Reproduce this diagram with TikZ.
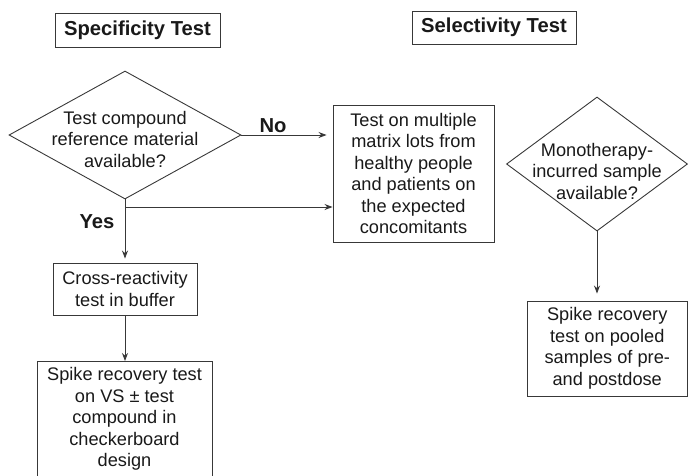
\documentclass[tikz,border=0pt]{standalone}
\usepackage{fontspec}
\setmainfont{Liberation Sans}
\usetikzlibrary{shapes.geometric,arrows.meta}
\begin{document}
\begin{tikzpicture}[x=1pt,y=-1pt,
  every node/.style={font=\fontsize{18.2}{21.5}\selectfont, text=black!90},
  box/.style={draw=black!78, line width=0.9pt, align=center, inner sep=0pt},
  dia/.style={diamond, draw=black!78, line width=0.9pt, inner sep=0pt},
  title/.style={box, font=\fontsize{20.2}{22}\selectfont\bfseries},
  lbl/.style={font=\fontsize{20.2}{22}\selectfont\bfseries},
  arr/.style={draw=black!78, line width=0.9pt, -{Stealth[length=8pt,width=6pt]}},
]
\useasboundingbox (0,0) rectangle (688,475);
\clip (0,0) rectangle (688,475);

% titles
\node[title, minimum width=165, minimum height=34] (spec) at (137.5,30) {Specificity Test};
\node[title, minimum width=164, minimum height=33] (sel) at (494,27.5) {Selectivity Test};

% decision 1
\node[dia, minimum width=232, minimum height=128] (d1) at (125,135) {};
\node[align=center] (d1t) at (125,139) {Test compound\\reference material\\available?};

% middle box
\node[box, minimum width=161, minimum height=137] (mid) at (413.5,173.5)
  {Test on multiple\\matrix lots from\\healthy people\\and patients on\\the expected\\concomitants};

% decision 2
\node[dia, minimum width=181, minimum height=134] (d2) at (597,164) {};
\node[align=center] (d2t) at (597,171) {Monotherapy-\\incurred sample\\available?};

% cross-reactivity
\node[box, minimum width=144, minimum height=52] (cross) at (125,289) {Cross-reactivity\\test in buffer};

% spike recovery (left)
\node[box, minimum width=175, minimum height=135, anchor=north] (sp1) at (124.5,361) {};
\node[align=center, anchor=north] (sp1t) at (124.5,364)
  {Spike recovery test\\on VS ± test\\compound in\\checkerboard\\design};

% spike recovery (right)
\node[box, minimum width=160.5, minimum height=95] (sp2) at (607.25,348.5)
  {Spike recovery\\test on pooled\\samples of pre-\\and postdose};

% labels
\node[lbl] (no) at (273,126) {No};
\node[lbl] (yes) at (97,222) {Yes};

% connectors
\coordinate (j) at (125,207);
\draw[arr, shorten >=6pt] (d1.east) -- (d1.east -| mid.west);
\draw[arr, shorten >=4pt] (d1.south) -- (d1.south |- cross.north);
\draw[arr] (j) -- (j -| mid.west);
\draw[arr] (cross.south) -- (cross.south |- sp1.north);
\draw[arr, shorten >=7pt] (d2.south) -- (d2.south |- sp2.north);
\end{tikzpicture}
\end{document}
